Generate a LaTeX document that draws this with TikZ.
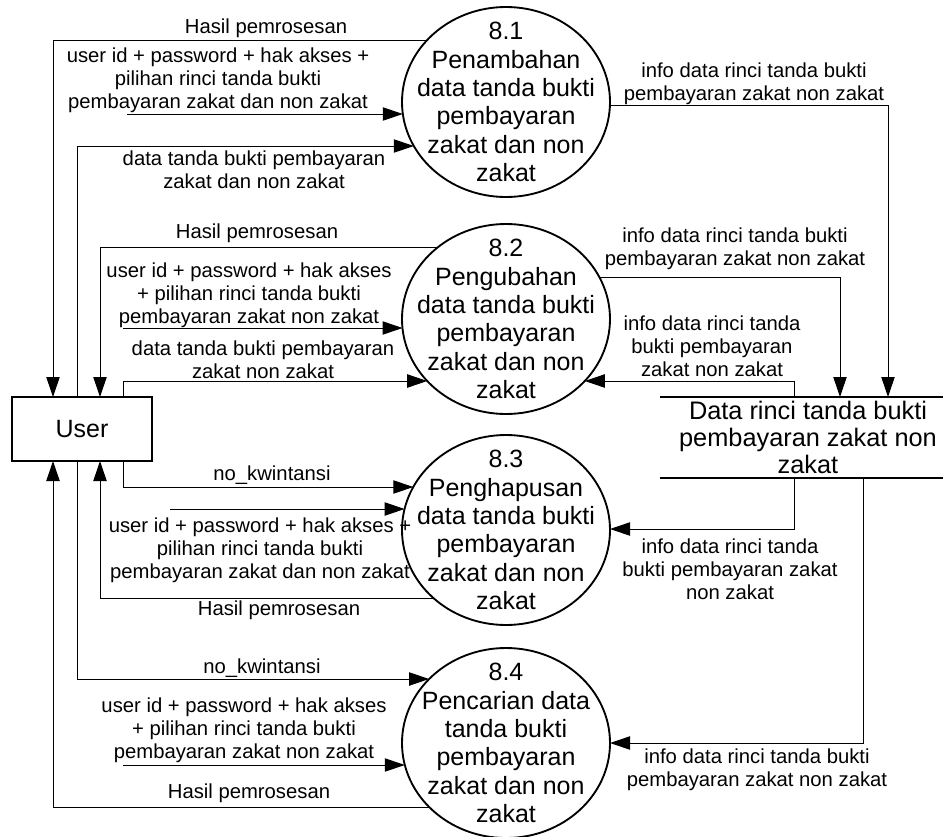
\documentclass[tikz,border=0pt]{standalone}
\usepackage{fontspec}
\setmainfont{Liberation Sans}
\usetikzlibrary{arrows.meta,calc,shapes.geometric}
\begin{document}
\begin{tikzpicture}[x=0.75pt,y=-0.75pt,
  proc/.style={draw, ellipse, line width=1.4pt, minimum width=156pt, minimum height=142.5pt, inner sep=0pt, outer sep=0pt},
  ptext/.style={align=center, font=\fontsize{18.75}{21.2}\selectfont, inner sep=0pt},
  lbl/.style={align=center, font=\fontsize{15.2}{17.25}\selectfont, inner sep=0pt},
  flow/.style={draw, line width=0.75pt, -{Triangle[length=15pt,width=10pt]}},
  storeline/.style={draw, line width=1.3pt},
]
\useasboundingbox (0,0) rectangle (943,836);

% processes
\node[proc] (E1) at (506,102) {};
\node[proc] (E2) at (506,319) {};
\node[proc] (E3) at (506,530) {};
\node[proc] (E4) at (506,743) {};
\node[ptext] (T1) at (E1) {8.1\\Penambahan\\data tanda bukti\\pembayaran\\zakat dan non\\zakat};
\node[ptext] (T2) at (E2) {8.2\\Pengubahan\\data tanda bukti\\pembayaran\\zakat dan non\\zakat};
\node[ptext] (T3) at (E3) {8.3\\Penghapusan\\data tanda bukti\\pembayaran\\zakat dan non\\zakat};
\node[ptext] (T4) at (E4) {8.4\\Pencarian data\\tanda bukti\\pembayaran\\zakat dan non\\zakat};

% external entity
\node[draw, line width=1pt, minimum width=105pt, minimum height=48pt, inner sep=0pt, outer sep=0pt,
      font=\fontsize{18.75}{21.2}\selectfont] (U) at (82,429) {User};

% data store
\node[minimum width=222pt, minimum height=60.75pt, inner sep=0pt, outer sep=0pt, align=center,
      font=\fontsize{19}{20.25}\selectfont] (S) at (808,437.5) {Data rinci tanda bukti\\pembayaran zakat non\\zakat};
\draw[storeline] (S.north west) -- (S.north east);
\draw[storeline] (S.south west) -- (S.south east);

% attachment points on User
\coordinate (ut1) at ($(U.north west)+(41,0)$);
\coordinate (ut2) at ($(U.north west)+(65,0)$);
\coordinate (ut3) at ($(U.north west)+(88,0)$);
\coordinate (ut4) at ($(U.north west)+(111,0)$);
\coordinate (ub1) at ($(U.south west)+(41,0)$);
\coordinate (ub2) at ($(U.south west)+(65,0)$);
\coordinate (ub3) at ($(U.south west)+(88,0)$);
\coordinate (ub4) at ($(U.south west)+(111,0)$);

% attachment points on store
\coordinate (st1) at ($(S.north west)+(228,0)$);
\coordinate (st2) at ($(S.north west)+(180,0)$);
\coordinate (st3) at ($(S.north west)+(134,0)$);
\coordinate (sb1) at ($(S.south west)+(134,0)$);
\coordinate (sb2) at ($(S.south west)+(203,0)$);

% border points on processes
\coordinate (e1a) at ($(E1)+(-78.8,-62)$);
\coordinate (e1b) at ($(E1)+(-103.2,12)$);
\coordinate (e1c) at ($(E1)+(-92.2,44)$);
\coordinate (e1r) at ($(E1)+(103.9,3)$);
\coordinate (e2a) at ($(E2)+(-67.8,-72)$);
\coordinate (e2b) at ($(E2)+(-103.5,9)$);
\coordinate (e2c) at ($(E2)+(-78.8,62)$);
\coordinate (e2r) at ($(E2)+(93.3,-42)$);
\coordinate (e2d) at ($(E2)+(78.8,62)$);
\coordinate (e3a) at ($(E3)+(-92.7,-43)$);
\coordinate (e3b) at ($(E3)+(-101.4,-21)$);
\coordinate (e3c) at ($(E3)+(-72.6,68)$);
\coordinate (e3r) at ($(E3)+(104,-1)$);
\coordinate (e4a) at ($(E4)+(-76.9,-64)$);
\coordinate (e4b) at ($(E4)+(-101.2,22)$);
\coordinate (e4c) at ($(E4)+(-76.9,64)$);
\coordinate (e4r) at ($(E4)+(104,0)$);

% free ends
\coordinate (f1) at (127,114);
\coordinate (f2) at (123,328);
\coordinate (f3) at (170,509);
\coordinate (f4) at (123,765);

% flows left side
\draw[flow] (e1a) -| (ut1);
\draw[flow] (f1) -- (e1b);
\draw[flow] (ut2) |- (e1c);
\draw[flow] (e2a) -| (ut3);
\draw[flow] (f2) -- (e2b);
\draw[flow] (ut4) |- (e2c);
\draw[flow] (ub4) |- (e3a);
\draw[flow] (f3) -- (e3b);
\draw[flow] (e3c) -| (ub3);
\draw[flow] (ub2) |- (e4a);
\draw[flow] (f4) -- (e4b);
\draw[flow] (e4c) -| (ub1);

% flows right side
\draw[flow] (e1r) -| (st1);
\draw[flow] (e2r) -| (st2);
\draw[flow] (st3) |- (e2d);
\draw[flow] (sb1) |- (e3r);
\draw[flow] (sb2) |- (e4r);

% labels left
\node[lbl] (L1) at (266,28) {Hasil pemrosesan};
\node[lbl] (L2) at (218,80) {user id + password + hak akses +\\pilihan rinci tanda bukti\\pembayaran zakat dan non zakat};
\node[lbl] (L3) at (254,170) {data tanda bukti pembayaran\\zakat dan non zakat};
\node[lbl] (L4) at (257,233) {Hasil pemrosesan};
\node[lbl] (L5) at (249,295) {user id + password + hak akses\\+ pilihan rinci tanda bukti\\pembayaran zakat non zakat};
\node[lbl] (L6) at (263,360) {data tanda bukti pembayaran\\zakat non zakat};
\node[lbl] (L7) at (272,475) {no\_kwintansi};
\node[lbl] (L8) at (260,550) {user id + password + hak akses +\\pilihan rinci tanda bukti\\pembayaran zakat dan non zakat};
\node[lbl] (L9) at (279,610) {Hasil pemrosesan};
\node[lbl] (L10) at (262,668) {no\_kwintansi};
\node[lbl] (L11) at (244,730) {user id + password + hak akses\\+ pilihan rinci tanda bukti\\pembayaran zakat non zakat};
\node[lbl] (L12) at (249,793) {Hasil pemrosesan};

% labels right
\node[lbl] (R1) at (754,84) {info data rinci tanda bukti\\pembayaran zakat non zakat};
\node[lbl] (R2) at (735,249) {info data rinci tanda bukti\\pembayaran zakat non zakat};
\node[lbl] (R3) at (712,346) {info data rinci tanda\\bukti pembayaran\\zakat non zakat};
\node[lbl] (R4) at (730,569) {info data rinci tanda\\bukti pembayaran zakat\\non zakat};
\node[lbl] (R5) at (757,770) {info data rinci tanda bukti\\pembayaran zakat non zakat};
\end{tikzpicture}
\end{document}
